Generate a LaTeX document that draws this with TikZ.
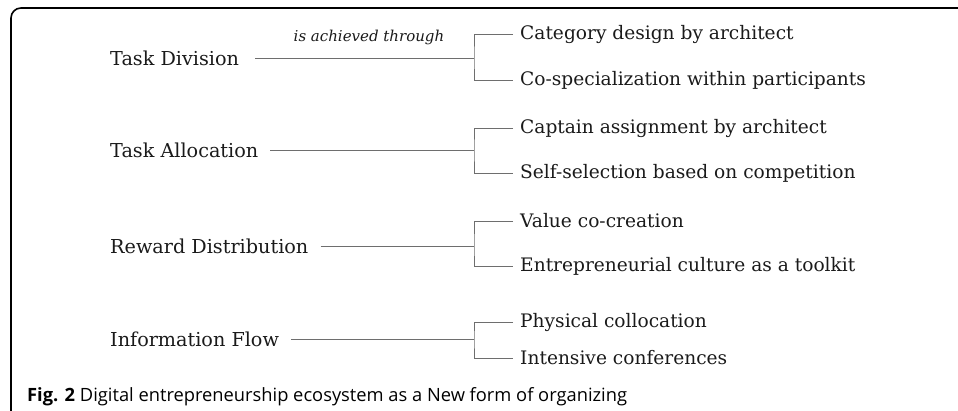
\documentclass[tikz,border=0pt]{standalone}
\usepackage{fontspec}
\setmainfont{DejaVu Serif}
\newfontfamily\capfont{Open Sans}
\definecolor{inkgray}{HTML}{1A1A1A}
\definecolor{linegray}{HTML}{6E6E6E}
\tikzset{
  aspect/.style={anchor=west, inner sep=0pt, text=inkgray, font=\fontsize{19.2}{22}\selectfont},
  means/.style={anchor=west, inner sep=0pt, text=inkgray, font=\fontsize{18.6}{22}\selectfont},
  link/.style={draw=linegray, line width=0.8pt}
}
\begin{document}
\begin{tikzpicture}[x=1pt, y=-1pt]
    \useasboundingbox (0,0) rectangle (958,410);
    % frame
    \draw[line width=1.6pt, rounded corners=10pt] (11,412) -- (11,8) -- (960,8);

    % left column
    \node[aspect] (div) at (110,58) {Task Division};
    \node[aspect] (alloc) at (110,150) {Task Allocation};
    \node[aspect] (reward) at (110,246) {Reward Distribution};
    \node[aspect] (info) at (110,339) {Information Flow};

    % right column
    \node[means] (cat) at (520,34) {Category design by architect};
    \node[means] (cospec) at (520,80) {Co-specialization within participants};
    \node[means] (capt) at (520,128) {Captain assignment by architect};
    \node[means] (self) at (520,173) {Self-selection based on competition};
    \node[means] (value) at (520,221) {Value co-creation};
    \node[means] (culture) at (520,266) {Entrepreneurial culture as a toolkit};
    \node[means] (phys) at (520,322) {Physical collocation};
    \node[means] (conf) at (520,358) {Intensive conferences};

    % junctions
    \coordinate (j1) at (474,58);
    \coordinate (j2) at (474,150);
    \coordinate (j3) at (474,246);
    \coordinate (j4) at (474,339);

    \draw[link] ([xshift=16pt]div.east) -- node[pos=0.52, above=9pt, text=inkgray, font=\fontsize{15}{17}\itshape] (thru) {is achieved through} (j1);
    \draw[link] ([xshift=12pt]alloc.east) -- (j2);
    \draw[link] ([xshift=12pt]reward.east) -- (j3);
    \draw[link] ([xshift=12pt]info.east) -- (j4);

    \draw[link] ([xshift=-7pt]cat.west) -| (j1) |- ([xshift=-7pt]cospec.west);
    \draw[link] ([xshift=-7pt]capt.west) -| (j2) |- ([xshift=-7pt]self.west);
    \draw[link] ([xshift=-7pt]value.west) -| (j3) |- ([xshift=-7pt]culture.west);
    \draw[link] ([xshift=-7pt]phys.west) -| (j4) |- ([xshift=-7pt]conf.west);

    % caption
    \node[anchor=base west, inner sep=0pt, font=\capfont\fontsize{18.3}{20}\selectfont] (caption) at (27,401)
        {\textbf{Fig. 2} Digital entrepreneurship ecosystem as a New form of organizing};
\end{tikzpicture}
\end{document}
